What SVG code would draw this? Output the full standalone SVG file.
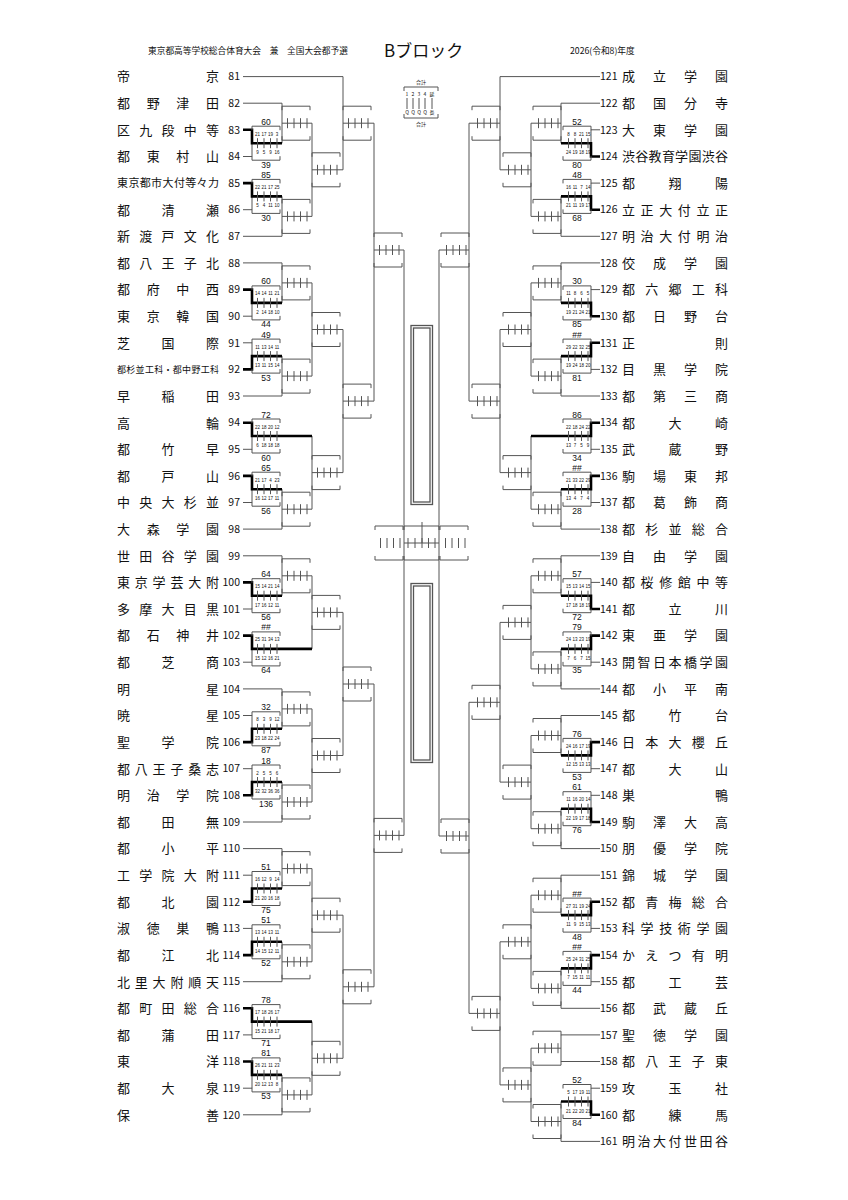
<svg xmlns="http://www.w3.org/2000/svg" xmlns:xlink="http://www.w3.org/1999/xlink" width="848" height="1200" viewBox="0 0 848 1200">
<style>
.t{fill:none;stroke:#555;stroke-width:1}
.k{fill:none;stroke:#000;stroke-width:2.6}
.dbl{fill:none;stroke:#555;stroke-width:1.3}
text{font-family:"Noto Sans CJK JP","Noto Sans",sans-serif;fill:#111}
.n{font-size:13px}
.n11{font-size:11px}
.n9{font-size:9px}
.nl{font-size:10.5px;text-anchor:end}
.nr{font-size:10.5px}
.tot{font-family:"Liberation Sans",Arial,sans-serif;font-size:8.5px;text-anchor:middle}
.sc{font-family:"Liberation Sans",Arial,sans-serif;font-size:4.5px;text-anchor:middle}
.lg{font-size:5px;text-anchor:middle}
.hd{font-size:8.7px}
.ttl{font-size:17px}
</style>
<defs>
<g id="bx"><path class="t" d="M0,-13V-17H28V-13M0,13V17H28V13M5.5,-5v10M12,-5v10M18.5,-5v10M25,-5v10"/></g>
</defs>
<rect width="848" height="1200" fill="#fff"/>
<g id="header">
<text class="hd" x="148" y="54">東京都高等学校総合体育大会　兼　全国大会都予選</text>
<text class="ttl" x="384" y="57">Bブロック</text>
<text class="hd" x="570" y="54">2026(令和8)年度</text>
</g>
<g id="legend">
<text class="lg" x="421" y="84">合計</text>
<path class="t" d="M404,91V87H438V91M404,114V118H438V114M407,98V109M413,98V109M419,98V109M425,98V109M432,98V109"/>
<text class="lg" y="95.5"><tspan x="407">1</tspan><tspan x="413">2</tspan><tspan x="419">3</tspan><tspan x="425">4</tspan><tspan x="432">延</tspan></text>
<text class="lg" y="114"><tspan x="407">Q</tspan><tspan x="413">Q</tspan><tspan x="419">Q</tspan><tspan x="425">Q</tspan><tspan x="432">長</tspan></text>
<text class="lg" x="421" y="126">合計</text>
</g>
<g id="center">
<rect class="dbl" x="411" y="325.5" width="21.5" height="179"/>
<rect class="dbl" x="413.5" y="328" width="16.5" height="174"/>
<rect class="dbl" x="411" y="583.5" width="21.5" height="179"/>
<rect class="dbl" x="413.5" y="586" width="16.5" height="174"/>
</g>
<g id="connectors">
<path class="t" d="M243,76.6H343M243,103.2H282M243,236.3H282M243,262.9H282M243,396H282M243,529.1H282M243,555.8H282M243,688.9H282M243,822H282M243,848.6H282M243,981.7H282M243,1114.8H282
M243,156.5H252V143.2M243,209.7H252V196.4M243,316.2H252V302.9M243,342.8H252V356.1M243,449.3H252V436M243,502.5H252V489.2M243,609H252V595.7M243,662.2H252V648.9M243,715.5H252V728.8M243,768.7H252V782M243,875.2H252V888.5M243,928.4H252V941.8M243,1034.9H252V1021.6M243,1088.2H252V1074.9
M282,103.2V143.2M282,123.2H312M282,196.4V236.3M282,216.4H312M282,262.9V302.9M282,282.9H312M282,356.1V396M282,376.1H312M282,489.2V529.1M282,509.2H312M282,555.8V595.7M282,575.8H312M282,688.9V728.8M282,708.9H312M282,782V822M282,802H312M282,848.6V888.5M282,868.6H312M282,941.8V981.7M282,961.8H312M282,1074.9V1114.8M282,1094.9H312
M312,123.2V216.4M312,169.8H343M312,282.9V376.1M312,329.5H343M312,436V509.2M312,472.6H343M312,575.8V648.9M312,612.4H343M312,708.9V802M312,755.5H343M312,868.6V961.8M312,915.2H343M312,1021.6V1094.9M312,1058.3H343
M343,76.6V169.8M343,123.2H374M343,329.5V472.6M343,401.1H374M343,612.4V755.5M343,684H374M343,915.2V1058.3M343,986.8H374
M374,123.2V401.1M374,250H404M374,684V986.8M374,835.4H404
M404,250V835.4M404,543H439M422,522V543M439,250V836
M439,250H469M439,836H469M469,123.2V401.1M469,702.3V1013.4
M469,123.2H500M469,401.1H500M469,702.3H500M469,1013.4H500
M500,76.6V169.8M500,329.5V472.6M500,622.4V782.1M500,941.8V1084.9
M500,169.8H531M500,329.5H531M500,472.6H531M500,622.4H531M500,782.1H531M500,941.8H531M500,1084.9H531
M531,123.2V216.4M531,282.9V376.1M531,436V509.2M531,575.8V668.9M531,735.5V828.7M531,895.2V988.4M531,1048.2V1121.5
M531,123.2H561M531,216.4H561M531,282.9H561M531,376.1H561M531,509.2H561M531,575.8H561M531,668.9H561M531,735.5H561M531,828.7H561M531,895.2H561M531,988.4H561M531,1048.2H561M531,1121.5H561
M561,103.2V143.2M561,196.4V236.3M561,262.9V302.9M561,356.1V396M561,489.2V529.1M561,555.8V595.7M561,648.9V688.9M561,715.5V755.4M561,808.7V848.6M561,875.2V915.1M561,968.4V1008.3M561,1034.9V1061.5M561,1101.5V1141.4
M600,76.6H500M600,103.2H561M600,236.3H561M600,262.9H561M600,396H561M600,529.1H561M600,555.8H561M600,688.9H561M600,715.5H561M600,848.6H561M600,875.2H561M600,1008.3H561M600,1034.9H561M600,1061.5H561M600,1141.4H561
M600,129.8H591V143.2M600,183.1H591V196.4M600,289.6H591V302.9M600,369.4H591V356.1M600,449.3H591V436M600,502.5H591V489.2M600,582.4H591V595.7M600,662.2H591V648.9M600,768.7H591V755.4M600,795.3H591V808.7M600,928.4H591V915.1M600,981.7H591V968.4M600,1088.2H591V1101.5"/>
<path class="k" d="M243,129.8H252V143.2H282M243,183.1H252V196.4H282M243,289.6H252V302.9H282M243,369.4H252V356.1H282M243,422.7H252V436H312M243,475.9H252V489.2H282M243,582.4H252V595.7H282M243,635.6H252V648.9H312M243,742.1H252V728.8H282M243,795.3H252V782H282M243,901.8H252V888.5H282M243,955.1H252V941.8H282M243,1008.3H252V1021.6H312M243,1061.5H252V1074.9H282
M600,156.5H591V143.2H561M600,209.7H591V196.4H561M600,316.2H591V302.9H561M600,342.8H591V356.1H561M600,422.7H591V436H531M600,475.9H591V489.2H561M600,609H591V595.7H561M600,635.6H591V648.9H561M600,742.1H591V755.4H561M600,822H591V808.7H561M600,901.8H591V915.1H561M600,955.1H591V968.4H561M600,1114.8H591V1101.5H561"/>
</g>
<g id="boxes">
<use href="#bx" x="282" y="123.2"/><use href="#bx" x="282" y="216.4"/><use href="#bx" x="282" y="282.9"/><use href="#bx" x="282" y="376.1"/><use href="#bx" x="282" y="509.2"/><use href="#bx" x="282" y="575.8"/><use href="#bx" x="282" y="708.9"/><use href="#bx" x="282" y="802"/><use href="#bx" x="282" y="868.6"/><use href="#bx" x="282" y="961.8"/><use href="#bx" x="282" y="1094.9"/>
<use href="#bx" x="312" y="169.8"/><use href="#bx" x="312" y="329.5"/><use href="#bx" x="312" y="472.6"/><use href="#bx" x="312" y="612.4"/><use href="#bx" x="312" y="755.5"/><use href="#bx" x="312" y="915.2"/><use href="#bx" x="312" y="1058.3"/>
<use href="#bx" x="343" y="123.2"/><use href="#bx" x="343" y="401.1"/><use href="#bx" x="343" y="684"/><use href="#bx" x="343" y="986.8"/>
<use href="#bx" x="374" y="250"/><use href="#bx" x="374" y="835.4"/>
<use href="#bx" x="375" y="543"/><use href="#bx" x="440" y="543"/>
<path class="t" d="M404,530V526H439V530M404,556V560H439V556M408,538v10M415,538v10M422,538v10M428.5,538v10M435,538v10"/>
<use href="#bx" x="441" y="250"/><use href="#bx" x="441" y="836"/>
<use href="#bx" x="472" y="123.2"/><use href="#bx" x="472" y="401.1"/><use href="#bx" x="472" y="702.3"/><use href="#bx" x="472" y="1013.4"/>
<use href="#bx" x="503" y="169.8"/><use href="#bx" x="503" y="329.5"/><use href="#bx" x="503" y="472.6"/><use href="#bx" x="503" y="622.4"/><use href="#bx" x="503" y="782.1"/><use href="#bx" x="503" y="941.8"/><use href="#bx" x="503" y="1084.9"/>
<use href="#bx" x="533" y="123.2"/><use href="#bx" x="533" y="216.4"/><use href="#bx" x="533" y="282.9"/><use href="#bx" x="533" y="376.1"/><use href="#bx" x="533" y="509.2"/><use href="#bx" x="533" y="575.8"/><use href="#bx" x="533" y="668.9"/><use href="#bx" x="533" y="735.5"/><use href="#bx" x="533" y="828.7"/><use href="#bx" x="533" y="895.2"/><use href="#bx" x="533" y="988.4"/><use href="#bx" x="533" y="1048.2"/><use href="#bx" x="533" y="1121.5"/>
</g>
<g id="m83-84"><use href="#bx" x="252" y="143.2"/><text class="tot" x="266" y="124.7">60</text><text class="tot" x="266" y="167.7">39</text><text class="sc" y="135.7"><tspan x="257.5">21</tspan><tspan x="264">17</tspan><tspan x="270.5">19</tspan><tspan x="277">3</tspan></text><text class="sc" y="154.2"><tspan x="257.5">9</tspan><tspan x="264">5</tspan><tspan x="270.5">9</tspan><tspan x="277">16</tspan></text></g>
<g id="m85-86"><use href="#bx" x="252" y="196.4"/><text class="tot" x="266" y="177.9">85</text><text class="tot" x="266" y="220.9">30</text><text class="sc" y="188.9"><tspan x="257.5">22</tspan><tspan x="264">21</tspan><tspan x="270.5">17</tspan><tspan x="277">25</tspan></text><text class="sc" y="207.4"><tspan x="257.5">5</tspan><tspan x="264">4</tspan><tspan x="270.5">11</tspan><tspan x="277">10</tspan></text></g>
<g id="m89-90"><use href="#bx" x="252" y="302.9"/><text class="tot" x="266" y="284.4">60</text><text class="tot" x="266" y="327.4">44</text><text class="sc" y="295.4"><tspan x="257.5">14</tspan><tspan x="264">14</tspan><tspan x="270.5">11</tspan><tspan x="277">21</tspan></text><text class="sc" y="313.9"><tspan x="257.5">2</tspan><tspan x="264">14</tspan><tspan x="270.5">18</tspan><tspan x="277">10</tspan></text></g>
<g id="m91-92"><use href="#bx" x="252" y="356.1"/><text class="tot" x="266" y="337.6">49</text><text class="tot" x="266" y="380.6">53</text><text class="sc" y="348.6"><tspan x="257.5">11</tspan><tspan x="264">13</tspan><tspan x="270.5">14</tspan><tspan x="277">11</tspan></text><text class="sc" y="367.1"><tspan x="257.5">13</tspan><tspan x="264">11</tspan><tspan x="270.5">15</tspan><tspan x="277">14</tspan></text></g>
<g id="m94-95"><use href="#bx" x="252" y="436"/><text class="tot" x="266" y="417.5">72</text><text class="tot" x="266" y="460.5">60</text><text class="sc" y="428.5"><tspan x="257.5">22</tspan><tspan x="264">18</tspan><tspan x="270.5">20</tspan><tspan x="277">12</tspan></text><text class="sc" y="447"><tspan x="257.5">6</tspan><tspan x="264">18</tspan><tspan x="270.5">18</tspan><tspan x="277">18</tspan></text></g>
<g id="m96-97"><use href="#bx" x="252" y="489.2"/><text class="tot" x="266" y="470.7">65</text><text class="tot" x="266" y="513.7">56</text><text class="sc" y="481.7"><tspan x="257.5">21</tspan><tspan x="264">17</tspan><tspan x="270.5">4</tspan><tspan x="277">23</tspan></text><text class="sc" y="500.2"><tspan x="257.5">16</tspan><tspan x="264">12</tspan><tspan x="270.5">17</tspan><tspan x="277">11</tspan></text></g>
<g id="m100-101"><use href="#bx" x="252" y="595.7"/><text class="tot" x="266" y="577.2">64</text><text class="tot" x="266" y="620.2">56</text><text class="sc" y="588.2"><tspan x="257.5">15</tspan><tspan x="264">14</tspan><tspan x="270.5">21</tspan><tspan x="277">14</tspan></text><text class="sc" y="606.7"><tspan x="257.5">17</tspan><tspan x="264">16</tspan><tspan x="270.5">12</tspan><tspan x="277">11</tspan></text></g>
<g id="m102-103"><use href="#bx" x="252" y="648.9"/><text class="tot" x="266" y="630.4">##</text><text class="tot" x="266" y="673.4">64</text><text class="sc" y="641.4"><tspan x="257.5">25</tspan><tspan x="264">31</tspan><tspan x="270.5">34</tspan><tspan x="277">13</tspan></text><text class="sc" y="659.9"><tspan x="257.5">15</tspan><tspan x="264">12</tspan><tspan x="270.5">16</tspan><tspan x="277">21</tspan></text></g>
<g id="m105-106"><use href="#bx" x="252" y="728.8"/><text class="tot" x="266" y="710.3">32</text><text class="tot" x="266" y="753.3">87</text><text class="sc" y="721.3"><tspan x="257.5">8</tspan><tspan x="264">3</tspan><tspan x="270.5">9</tspan><tspan x="277">12</tspan></text><text class="sc" y="739.8"><tspan x="257.5">23</tspan><tspan x="264">18</tspan><tspan x="270.5">22</tspan><tspan x="277">24</tspan></text></g>
<g id="m107-108"><use href="#bx" x="252" y="782"/><text class="tot" x="266" y="763.5">18</text><text class="tot" x="266" y="806.5">136</text><text class="sc" y="774.5"><tspan x="257.5">2</tspan><tspan x="264">5</tspan><tspan x="270.5">5</tspan><tspan x="277">6</tspan></text><text class="sc" y="793"><tspan x="257.5">32</tspan><tspan x="264">32</tspan><tspan x="270.5">36</tspan><tspan x="277">36</tspan></text></g>
<g id="m111-112"><use href="#bx" x="252" y="888.5"/><text class="tot" x="266" y="870">51</text><text class="tot" x="266" y="913">75</text><text class="sc" y="881"><tspan x="257.5">16</tspan><tspan x="264">12</tspan><tspan x="270.5">9</tspan><tspan x="277">14</tspan></text><text class="sc" y="899.5"><tspan x="257.5">21</tspan><tspan x="264">20</tspan><tspan x="270.5">16</tspan><tspan x="277">18</tspan></text></g>
<g id="m113-114"><use href="#bx" x="252" y="941.8"/><text class="tot" x="266" y="923.3">51</text><text class="tot" x="266" y="966.3">52</text><text class="sc" y="934.3"><tspan x="257.5">13</tspan><tspan x="264">14</tspan><tspan x="270.5">13</tspan><tspan x="277">11</tspan></text><text class="sc" y="952.8"><tspan x="257.5">14</tspan><tspan x="264">15</tspan><tspan x="270.5">12</tspan><tspan x="277">11</tspan></text></g>
<g id="m116-117"><use href="#bx" x="252" y="1021.6"/><text class="tot" x="266" y="1003.1">78</text><text class="tot" x="266" y="1046.1">71</text><text class="sc" y="1014.1"><tspan x="257.5">17</tspan><tspan x="264">18</tspan><tspan x="270.5">26</tspan><tspan x="277">17</tspan></text><text class="sc" y="1032.6"><tspan x="257.5">15</tspan><tspan x="264">21</tspan><tspan x="270.5">18</tspan><tspan x="277">17</tspan></text></g>
<g id="m118-119"><use href="#bx" x="252" y="1074.9"/><text class="tot" x="266" y="1056.4">81</text><text class="tot" x="266" y="1099.4">53</text><text class="sc" y="1067.4"><tspan x="257.5">26</tspan><tspan x="264">21</tspan><tspan x="270.5">11</tspan><tspan x="277">23</tspan></text><text class="sc" y="1085.9"><tspan x="257.5">20</tspan><tspan x="264">12</tspan><tspan x="270.5">13</tspan><tspan x="277">8</tspan></text></g>
<g id="m123-124"><use href="#bx" x="563" y="143.2"/><text class="tot" x="577" y="124.7">52</text><text class="tot" x="577" y="167.7">80</text><text class="sc" y="135.7"><tspan x="568.5">8</tspan><tspan x="575">8</tspan><tspan x="581.5">21</tspan><tspan x="588">15</tspan></text><text class="sc" y="154.2"><tspan x="568.5">24</tspan><tspan x="575">19</tspan><tspan x="581.5">18</tspan><tspan x="588">19</tspan></text></g>
<g id="m125-126"><use href="#bx" x="563" y="196.4"/><text class="tot" x="577" y="177.9">48</text><text class="tot" x="577" y="220.9">68</text><text class="sc" y="188.9"><tspan x="568.5">16</tspan><tspan x="575">11</tspan><tspan x="581.5">7</tspan><tspan x="588">14</tspan></text><text class="sc" y="207.4"><tspan x="568.5">21</tspan><tspan x="575">11</tspan><tspan x="581.5">19</tspan><tspan x="588">17</tspan></text></g>
<g id="m129-130"><use href="#bx" x="563" y="302.9"/><text class="tot" x="577" y="284.4">30</text><text class="tot" x="577" y="327.4">85</text><text class="sc" y="295.4"><tspan x="568.5">11</tspan><tspan x="575">8</tspan><tspan x="581.5">6</tspan><tspan x="588">5</tspan></text><text class="sc" y="313.9"><tspan x="568.5">19</tspan><tspan x="575">21</tspan><tspan x="581.5">24</tspan><tspan x="588">21</tspan></text></g>
<g id="m131-132"><use href="#bx" x="563" y="356.1"/><text class="tot" x="577" y="337.6">##</text><text class="tot" x="577" y="380.6">81</text><text class="sc" y="348.6"><tspan x="568.5">29</tspan><tspan x="575">22</tspan><tspan x="581.5">32</tspan><tspan x="588">25</tspan></text><text class="sc" y="367.1"><tspan x="568.5">19</tspan><tspan x="575">24</tspan><tspan x="581.5">18</tspan><tspan x="588">20</tspan></text></g>
<g id="m134-135"><use href="#bx" x="563" y="436"/><text class="tot" x="577" y="417.5">86</text><text class="tot" x="577" y="460.5">34</text><text class="sc" y="428.5"><tspan x="568.5">22</tspan><tspan x="575">18</tspan><tspan x="581.5">24</tspan><tspan x="588">22</tspan></text><text class="sc" y="447"><tspan x="568.5">13</tspan><tspan x="575">7</tspan><tspan x="581.5">5</tspan><tspan x="588">9</tspan></text></g>
<g id="m136-137"><use href="#bx" x="563" y="489.2"/><text class="tot" x="577" y="470.7">##</text><text class="tot" x="577" y="513.7">28</text><text class="sc" y="481.7"><tspan x="568.5">21</tspan><tspan x="575">33</tspan><tspan x="581.5">22</tspan><tspan x="588">29</tspan></text><text class="sc" y="500.2"><tspan x="568.5">13</tspan><tspan x="575">4</tspan><tspan x="581.5">7</tspan><tspan x="588">4</tspan></text></g>
<g id="m140-141"><use href="#bx" x="563" y="595.7"/><text class="tot" x="577" y="577.2">57</text><text class="tot" x="577" y="620.2">72</text><text class="sc" y="588.2"><tspan x="568.5">15</tspan><tspan x="575">13</tspan><tspan x="581.5">14</tspan><tspan x="588">15</tspan></text><text class="sc" y="606.7"><tspan x="568.5">17</tspan><tspan x="575">18</tspan><tspan x="581.5">18</tspan><tspan x="588">19</tspan></text></g>
<g id="m142-143"><use href="#bx" x="563" y="648.9"/><text class="tot" x="577" y="630.4">79</text><text class="tot" x="577" y="673.4">35</text><text class="sc" y="641.4"><tspan x="568.5">24</tspan><tspan x="575">13</tspan><tspan x="581.5">23</tspan><tspan x="588">19</tspan></text><text class="sc" y="659.9"><tspan x="568.5">7</tspan><tspan x="575">6</tspan><tspan x="581.5">7</tspan><tspan x="588">15</tspan></text></g>
<g id="m146-147"><use href="#bx" x="563" y="755.4"/><text class="tot" x="577" y="736.9">76</text><text class="tot" x="577" y="779.9">53</text><text class="sc" y="747.9"><tspan x="568.5">24</tspan><tspan x="575">16</tspan><tspan x="581.5">17</tspan><tspan x="588">19</tspan></text><text class="sc" y="766.4"><tspan x="568.5">12</tspan><tspan x="575">15</tspan><tspan x="581.5">13</tspan><tspan x="588">13</tspan></text></g>
<g id="m148-149"><use href="#bx" x="563" y="808.7"/><text class="tot" x="577" y="790.2">61</text><text class="tot" x="577" y="833.2">76</text><text class="sc" y="801.2"><tspan x="568.5">11</tspan><tspan x="575">16</tspan><tspan x="581.5">20</tspan><tspan x="588">14</tspan></text><text class="sc" y="819.7"><tspan x="568.5">22</tspan><tspan x="575">19</tspan><tspan x="581.5">17</tspan><tspan x="588">18</tspan></text></g>
<g id="m152-153"><use href="#bx" x="563" y="915.1"/><text class="tot" x="577" y="896.6">##</text><text class="tot" x="577" y="939.6">48</text><text class="sc" y="907.6"><tspan x="568.5">27</tspan><tspan x="575">31</tspan><tspan x="581.5">19</tspan><tspan x="588">24</tspan></text><text class="sc" y="926.1"><tspan x="568.5">11</tspan><tspan x="575">9</tspan><tspan x="581.5">15</tspan><tspan x="588">13</tspan></text></g>
<g id="m154-155"><use href="#bx" x="563" y="968.4"/><text class="tot" x="577" y="949.9">##</text><text class="tot" x="577" y="992.9">44</text><text class="sc" y="960.9"><tspan x="568.5">25</tspan><tspan x="575">24</tspan><tspan x="581.5">31</tspan><tspan x="588">25</tspan></text><text class="sc" y="979.4"><tspan x="568.5">7</tspan><tspan x="575">15</tspan><tspan x="581.5">11</tspan><tspan x="588">11</tspan></text></g>
<g id="m159-160"><use href="#bx" x="563" y="1101.5"/><text class="tot" x="577" y="1083">52</text><text class="tot" x="577" y="1126">84</text><text class="sc" y="1094"><tspan x="568.5">5</tspan><tspan x="575">17</tspan><tspan x="581.5">19</tspan><tspan x="588">11</tspan></text><text class="sc" y="1112.5"><tspan x="568.5">21</tspan><tspan x="575">22</tspan><tspan x="581.5">20</tspan><tspan x="588">21</tspan></text></g>
<g id="t81"><text class="n" x="117 206" y="81.4">帝京</text><text class="nl" x="240" y="80.3">81</text></g>
<g id="t82"><text class="n" x="117 146.7 176.3 206" y="108">都野津田</text><text class="nl" x="240" y="106.9">82</text></g>
<g id="t83"><text class="n" x="117 139.3 161.5 183.8 206" y="134.6">区九段中等</text><text class="nl" x="240" y="133.5">83</text></g>
<g id="t84"><text class="n" x="117 146.7 176.3 206" y="161.3">都東村山</text><text class="nl" x="240" y="160.2">84</text></g>
<g id="t85"><text class="n11" x="117 128.4 139.8 151.1 162.5 173.9 185.3 196.6 208" y="187.1">東京都市大付等々力</text><text class="nl" x="240" y="186.8">85</text></g>
<g id="t86"><text class="n" x="117 161.5 206" y="214.5">都清瀬</text><text class="nl" x="240" y="213.4">86</text></g>
<g id="t87"><text class="n" x="117 139.3 161.5 183.8 206" y="241.1">新渡戸文化</text><text class="nl" x="240" y="240">87</text></g>
<g id="t88"><text class="n" x="117 139.3 161.5 183.8 206" y="267.7">都八王子北</text><text class="nl" x="240" y="266.6">88</text></g>
<g id="t89"><text class="n" x="117 146.7 176.3 206" y="294.4">都府中西</text><text class="nl" x="240" y="293.3">89</text></g>
<g id="t90"><text class="n" x="117 146.7 176.3 206" y="321">東京韓国</text><text class="nl" x="240" y="319.9">90</text></g>
<g id="t91"><text class="n" x="117 161.5 206" y="347.6">芝国際</text><text class="nl" x="240" y="346.5">91</text></g>
<g id="t92"><text class="n9" x="117 126.3 135.6 144.9 154.2 163.5 172.8 182.1 191.4 200.7 210" y="372.7">都杉並工科・都中野工科</text><text class="nl" x="240" y="373.1">92</text></g>
<g id="t93"><text class="n" x="117 161.5 206" y="400.8">早稲田</text><text class="nl" x="240" y="399.7">93</text></g>
<g id="t94"><text class="n" x="117 206" y="427.5">高輪</text><text class="nl" x="240" y="426.4">94</text></g>
<g id="t95"><text class="n" x="117 161.5 206" y="454.1">都竹早</text><text class="nl" x="240" y="453">95</text></g>
<g id="t96"><text class="n" x="117 161.5 206" y="480.7">都戸山</text><text class="nl" x="240" y="479.6">96</text></g>
<g id="t97"><text class="n" x="117 139.3 161.5 183.8 206" y="507.3">中央大杉並</text><text class="nl" x="240" y="506.2">97</text></g>
<g id="t98"><text class="n" x="117 146.7 176.3 206" y="533.9">大森学園</text><text class="nl" x="240" y="532.8">98</text></g>
<g id="t99"><text class="n" x="117 139.3 161.5 183.8 206" y="560.6">世田谷学園</text><text class="nl" x="240" y="559.5">99</text></g>
<g id="t100"><text class="n" x="117 134.8 152.6 170.4 188.2 206" y="587.2">東京学芸大附</text><text class="nl" x="240" y="586.1">100</text></g>
<g id="t101"><text class="n" x="117 139.3 161.5 183.8 206" y="613.8">多摩大目黒</text><text class="nl" x="240" y="612.7">101</text></g>
<g id="t102"><text class="n" x="117 146.7 176.3 206" y="640.4">都石神井</text><text class="nl" x="240" y="639.3">102</text></g>
<g id="t103"><text class="n" x="117 161.5 206" y="667">都芝商</text><text class="nl" x="240" y="665.9">103</text></g>
<g id="t104"><text class="n" x="117 206" y="693.7">明星</text><text class="nl" x="240" y="692.6">104</text></g>
<g id="t105"><text class="n" x="117 206" y="720.3">暁星</text><text class="nl" x="240" y="719.2">105</text></g>
<g id="t106"><text class="n" x="117 161.5 206" y="746.9">聖学院</text><text class="nl" x="240" y="745.8">106</text></g>
<g id="t107"><text class="n" x="117 134.8 152.6 170.4 188.2 206" y="773.5">都八王子桑志</text><text class="nl" x="240" y="772.4">107</text></g>
<g id="t108"><text class="n" x="117 146.7 176.3 206" y="800.1">明治学院</text><text class="nl" x="240" y="799">108</text></g>
<g id="t109"><text class="n" x="117 161.5 206" y="826.8">都田無</text><text class="nl" x="240" y="825.7">109</text></g>
<g id="t110"><text class="n" x="117 161.5 206" y="853.4">都小平</text><text class="nl" x="240" y="852.3">110</text></g>
<g id="t111"><text class="n" x="117 139.3 161.5 183.8 206" y="880">工学院大附</text><text class="nl" x="240" y="878.9">111</text></g>
<g id="t112"><text class="n" x="117 161.5 206" y="906.6">都北園</text><text class="nl" x="240" y="905.5">112</text></g>
<g id="t113"><text class="n" x="117 146.7 176.3 206" y="933.2">淑徳巣鴨</text><text class="nl" x="240" y="932.1">113</text></g>
<g id="t114"><text class="n" x="117 161.5 206" y="959.9">都江北</text><text class="nl" x="240" y="958.8">114</text></g>
<g id="t115"><text class="n" x="117 134.8 152.6 170.4 188.2 206" y="986.5">北里大附順天</text><text class="nl" x="240" y="985.4">115</text></g>
<g id="t116"><text class="n" x="117 139.3 161.5 183.8 206" y="1013.1">都町田総合</text><text class="nl" x="240" y="1012">116</text></g>
<g id="t117"><text class="n" x="117 161.5 206" y="1039.7">都蒲田</text><text class="nl" x="240" y="1038.6">117</text></g>
<g id="t118"><text class="n" x="117 206" y="1066.3">東洋</text><text class="nl" x="240" y="1065.2">118</text></g>
<g id="t119"><text class="n" x="117 161.5 206" y="1093">都大泉</text><text class="nl" x="240" y="1091.9">119</text></g>
<g id="t120"><text class="n" x="117 206" y="1119.6">保善</text><text class="nl" x="240" y="1118.5">120</text></g>
<g id="t121"><text class="nr" x="600" y="80.3">121</text><text class="n" x="622 653 684 715" y="81.4">成立学園</text></g>
<g id="t122"><text class="nr" x="600" y="106.9">122</text><text class="n" x="622 653 684 715" y="108">都国分寺</text></g>
<g id="t123"><text class="nr" x="600" y="133.5">123</text><text class="n" x="622 653 684 715" y="134.6">大東学園</text></g>
<g id="t124"><text class="nr" x="600" y="160.2">124</text><text class="n" x="622 635.3 648.6 661.9 675.1 688.4 701.7 715" y="161.3">渋谷教育学園渋谷</text></g>
<g id="t125"><text class="nr" x="600" y="186.8">125</text><text class="n" x="622 668.5 715" y="187.9">都翔陽</text></g>
<g id="t126"><text class="nr" x="600" y="213.4">126</text><text class="n" x="622 640.6 659.2 677.8 696.4 715" y="214.5">立正大付立正</text></g>
<g id="t127"><text class="nr" x="600" y="240">127</text><text class="n" x="622 640.6 659.2 677.8 696.4 715" y="241.1">明治大付明治</text></g>
<g id="t128"><text class="nr" x="600" y="266.6">128</text><text class="n" x="622 653 684 715" y="267.7">佼成学園</text></g>
<g id="t129"><text class="nr" x="600" y="293.3">129</text><text class="n" x="622 645.3 668.5 691.8 715" y="294.4">都六郷工科</text></g>
<g id="t130"><text class="nr" x="600" y="319.9">130</text><text class="n" x="622 653 684 715" y="321">都日野台</text></g>
<g id="t131"><text class="nr" x="600" y="346.5">131</text><text class="n" x="622 715" y="347.6">正則</text></g>
<g id="t132"><text class="nr" x="600" y="373.1">132</text><text class="n" x="622 653 684 715" y="374.2">目黒学院</text></g>
<g id="t133"><text class="nr" x="600" y="399.7">133</text><text class="n" x="622 653 684 715" y="400.8">都第三商</text></g>
<g id="t134"><text class="nr" x="600" y="426.4">134</text><text class="n" x="622 668.5 715" y="427.5">都大崎</text></g>
<g id="t135"><text class="nr" x="600" y="453">135</text><text class="n" x="622 668.5 715" y="454.1">武蔵野</text></g>
<g id="t136"><text class="nr" x="600" y="479.6">136</text><text class="n" x="622 653 684 715" y="480.7">駒場東邦</text></g>
<g id="t137"><text class="nr" x="600" y="506.2">137</text><text class="n" x="622 653 684 715" y="507.3">都葛飾商</text></g>
<g id="t138"><text class="nr" x="600" y="532.8">138</text><text class="n" x="622 645.3 668.5 691.8 715" y="533.9">都杉並総合</text></g>
<g id="t139"><text class="nr" x="600" y="559.5">139</text><text class="n" x="622 653 684 715" y="560.6">自由学園</text></g>
<g id="t140"><text class="nr" x="600" y="586.1">140</text><text class="n" x="622 640.6 659.2 677.8 696.4 715" y="587.2">都桜修館中等</text></g>
<g id="t141"><text class="nr" x="600" y="612.7">141</text><text class="n" x="622 668.5 715" y="613.8">都立川</text></g>
<g id="t142"><text class="nr" x="600" y="639.3">142</text><text class="n" x="622 653 684 715" y="640.4">東亜学園</text></g>
<g id="t143"><text class="nr" x="600" y="665.9">143</text><text class="n" x="622 637.5 653 668.5 684 699.5 715" y="667">開智日本橋学園</text></g>
<g id="t144"><text class="nr" x="600" y="692.6">144</text><text class="n" x="622 653 684 715" y="693.7">都小平南</text></g>
<g id="t145"><text class="nr" x="600" y="719.2">145</text><text class="n" x="622 668.5 715" y="720.3">都竹台</text></g>
<g id="t146"><text class="nr" x="600" y="745.8">146</text><text class="n" x="622 645.3 668.5 691.8 715" y="746.9">日本大櫻丘</text></g>
<g id="t147"><text class="nr" x="600" y="772.4">147</text><text class="n" x="622 668.5 715" y="773.5">都大山</text></g>
<g id="t148"><text class="nr" x="600" y="799">148</text><text class="n" x="622 715" y="800.1">巣鴨</text></g>
<g id="t149"><text class="nr" x="600" y="825.7">149</text><text class="n" x="622 653 684 715" y="826.8">駒澤大高</text></g>
<g id="t150"><text class="nr" x="600" y="852.3">150</text><text class="n" x="622 653 684 715" y="853.4">朋優学院</text></g>
<g id="t151"><text class="nr" x="600" y="878.9">151</text><text class="n" x="622 653 684 715" y="880">錦城学園</text></g>
<g id="t152"><text class="nr" x="600" y="905.5">152</text><text class="n" x="622 645.3 668.5 691.8 715" y="906.6">都青梅総合</text></g>
<g id="t153"><text class="nr" x="600" y="932.1">153</text><text class="n" x="622 640.6 659.2 677.8 696.4 715" y="933.2">科学技術学園</text></g>
<g id="t154"><text class="nr" x="600" y="958.8">154</text><text class="n" x="622 645.3 668.5 691.8 715" y="959.9">かえつ有明</text></g>
<g id="t155"><text class="nr" x="600" y="985.4">155</text><text class="n" x="622 668.5 715" y="986.5">都工芸</text></g>
<g id="t156"><text class="nr" x="600" y="1012">156</text><text class="n" x="622 653 684 715" y="1013.1">都武蔵丘</text></g>
<g id="t157"><text class="nr" x="600" y="1038.6">157</text><text class="n" x="622 653 684 715" y="1039.7">聖徳学園</text></g>
<g id="t158"><text class="nr" x="600" y="1065.2">158</text><text class="n" x="622 645.3 668.5 691.8 715" y="1066.3">都八王子東</text></g>
<g id="t159"><text class="nr" x="600" y="1091.9">159</text><text class="n" x="622 668.5 715" y="1093">攻玉社</text></g>
<g id="t160"><text class="nr" x="600" y="1118.5">160</text><text class="n" x="622 668.5 715" y="1119.6">都練馬</text></g>
<g id="t161"><text class="nr" x="600" y="1145.1">161</text><text class="n" x="622 637.5 653 668.5 684 699.5 715" y="1146.2">明治大付世田谷</text></g>
</svg>
